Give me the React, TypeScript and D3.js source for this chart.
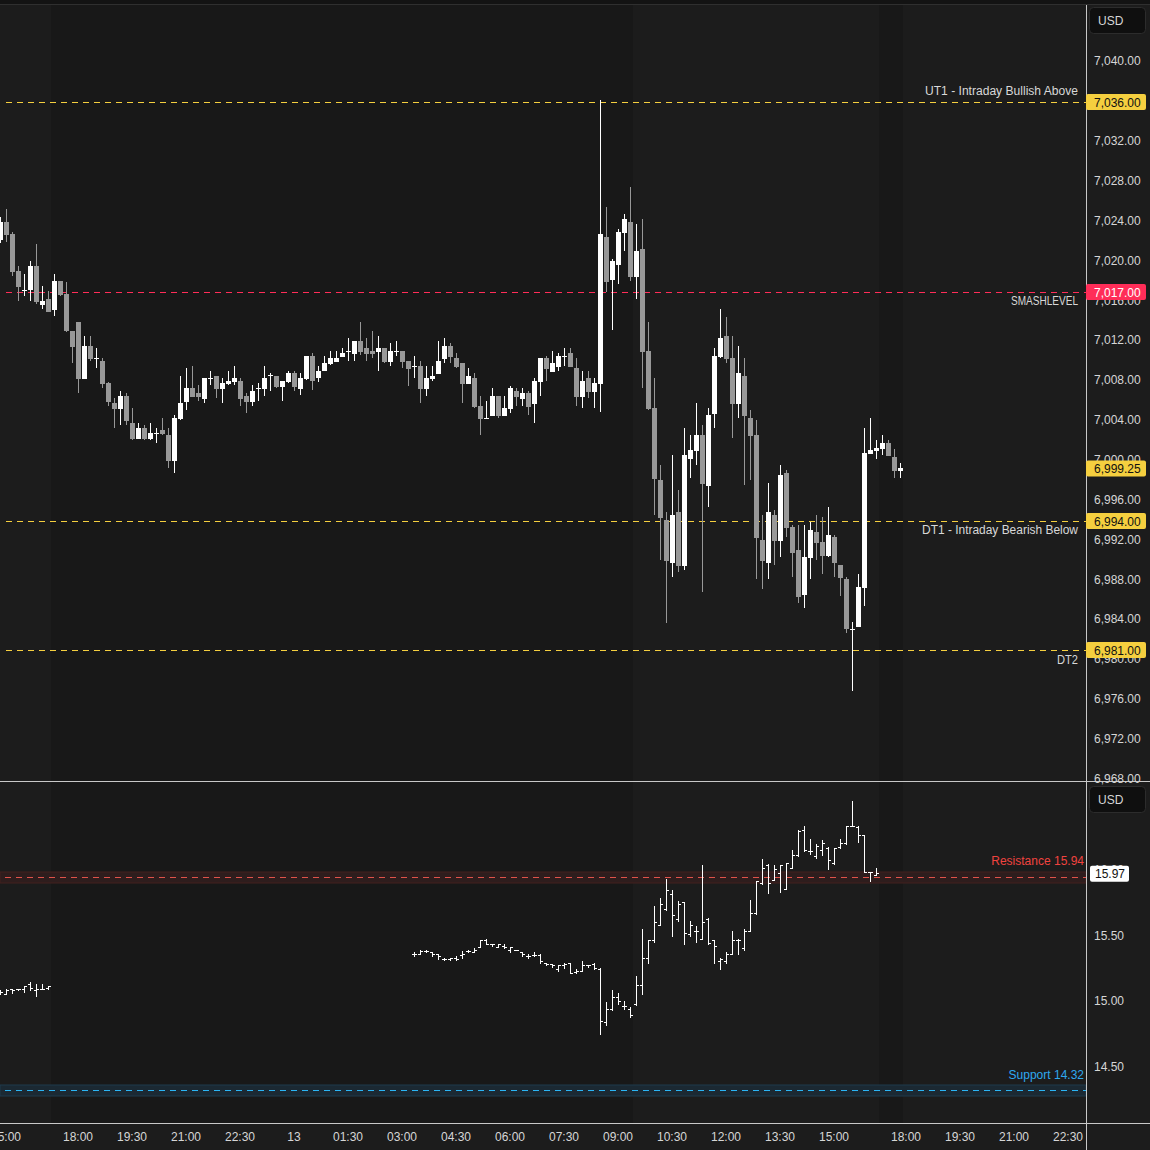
import React from 'react';
import * as d3 from 'd3';

// ---------- DATA ----------
// Main panel: 10-minute candles, bar index starts at -13 (index 0 = 18:00 on the 12th)
const mainStart = -13;
const mainOpen = [
  7022.2, 7024.0, 7022.8, 7019.1, 7017.2, 7017.2, 7019.6, 7015.7, 7016.3, 7015.2, 7018.1, 7016.8, 7013.0,
  7014.0, 7008.2, 7011.5, 7010.3, 7010.0, 7007.8, 7005.8, 7005.2, 7006.5, 7003.8, 7002.2, 7003.3, 7002.2, 7002.8, 7003.1, 7002.6, 7000.0, 7004.2, 7005.9, 7007.3,
  7006.8, 7006.2, 7008.3, 7008.5, 7007.2, 7007.7, 7007.9, 7008.0, 7006.5, 7005.9, 7007.3, 7007.2, 7008.6, 7008.5, 7007.4, 7007.9, 7008.8, 7007.2,
  7008.2, 7010.5, 7008.3, 7009.0, 7009.7, 7009.9, 7010.4, 7011.0, 7010.7, 7012.0, 7011.3, 7011.0, 7010.9, 7011.3, 7009.9, 7011.0, 7011.0, 7010.0,
  7009.5, 7009.5, 7007.2, 7008.2, 7008.7, 7010.2, 7011.5, 7010.3, 7009.8, 7007.7, 7008.3, 7005.5, 7004.3, 7004.5, 7006.5, 7004.5, 7005.2, 7007.0,
  7006.2, 7006.8, 7005.7, 7007.9, 7010.3, 7008.9, 7009.4, 7010.5, 7010.8, 7009.3, 7006.4, 7008.3, 7006.9, 7007.7, 7022.5, 7018.2, 7019.7, 7022.9,
  7024.0, 7018.5, 7021.3, 7011.0, 7005.3, 6998.1, 6994.1, 6989.8, 6994.9, 6989.5, 7000.2, 7001.0, 7002.6, 6997.5, 7004.7, 7010.4, 7012.5, 7010.3,
  7005.7, 7008.5, 7004.3, 7002.6, 6992.1, 6989.8, 6994.6, 6992.0, 6998.8, 6993.4, 6991.1, 6986.6, 6990.3, 6992.9, 6991.9, 6990.5, 6992.4, 6989.6,
  6988.2, 6983.1, 6983.3, 6987.3, 7000.7, 7001.0, 7001.2, 7001.8, 7000.4, 6999.0
];
const mainHigh = [
  7024.5, 7025.3, 7023.0, 7019.6, 7018.8, 7020.1, 7021.8, 7017.6, 7017.1, 7018.8, 7018.1, 7018.0, 7013.0,
  7014.0, 7012.5, 7012.5, 7011.3, 7010.3, 7007.9, 7006.3, 7007.0, 7006.8, 7005.3, 7003.8, 7003.6, 7003.8, 7003.3, 7004.3, 7003.3, 7004.6, 7008.5, 7009.3, 7009.5,
  7007.6, 7008.3, 7009.0, 7008.5, 7008.3, 7009.0, 7009.5, 7008.3, 7006.8, 7007.6, 7007.8, 7009.5, 7008.8, 7008.5, 7008.0, 7009.0, 7009.0, 7008.8,
  7010.5, 7010.8, 7009.5, 7010.5, 7011.0, 7011.0, 7011.3, 7012.3, 7012.0, 7014.0, 7012.3, 7013.0, 7012.5, 7011.3, 7011.8, 7012.0, 7011.0, 7010.0,
  7010.5, 7010.0, 7009.5, 7009.5, 7012.0, 7012.3, 7011.8, 7010.8, 7009.8, 7009.3, 7008.8, 7006.5, 7006.0, 7007.3, 7006.5, 7006.5, 7007.5, 7007.3,
  7007.3, 7007.0, 7008.3, 7010.3, 7010.5, 7011.0, 7010.8, 7011.3, 7011.3, 7010.3, 7009.0, 7009.0, 7008.3, 7036.2, 7025.5, 7020.3, 7023.3, 7024.8,
  7027.5, 7023.8, 7024.3, 7014.0, 7008.3, 6999.6, 6994.9, 7000.6, 6997.1, 7003.3, 7002.6, 7005.8, 7003.6, 7005.3, 7011.3, 7015.3, 7014.5, 7012.5,
  7011.5, 7010.3, 7005.1, 7004.1, 6994.6, 6997.8, 6995.1, 6999.6, 6999.1, 6993.6, 6993.6, 6993.6, 6993.9, 6994.6, 6994.4, 6995.4, 6992.6, 6989.6,
  6988.4, 6983.8, 6988.7, 7003.3, 7004.3, 7002.1, 7002.6, 7002.1, 7001.2, 6999.8
];
const mainLow = [
  7021.9, 7022.0, 7018.6, 7016.1, 7016.6, 7016.1, 7015.8, 7015.3, 7015.0, 7014.6, 7016.6, 7012.9, 7009.8,
  7006.8, 7008.2, 7010.0, 7009.3, 7007.3, 7005.5, 7003.3, 7003.6, 7003.6, 7002.1, 7002.2, 7002.1, 7002.1, 7001.8, 7002.6, 6999.3, 6998.8, 7004.1, 7005.1, 7006.4,
  7006.0, 7005.8, 7007.6, 7006.3, 7005.8, 7007.6, 7007.6, 7005.5, 7004.8, 7005.5, 7006.0, 7006.5, 7007.0, 7007.3, 7006.0, 7007.8, 7007.0, 7006.6,
  7008.1, 7007.1, 7007.9, 7009.0, 7009.6, 7009.9, 7010.4, 7010.0, 7010.0, 7010.6, 7010.0, 7010.3, 7009.0, 7009.8, 7009.5, 7010.5, 7009.3, 7007.5,
  7008.3, 7005.8, 7006.5, 7008.0, 7008.7, 7009.8, 7009.8, 7009.3, 7005.8, 7007.7, 7005.3, 7002.6, 7004.2, 7004.5, 7004.3, 7004.5, 7004.8, 7005.5,
  7005.5, 7004.6, 7003.8, 7006.5, 7008.0, 7008.9, 7009.0, 7009.5, 7009.4, 7005.5, 7005.3, 7006.3, 7005.3, 7004.9, 7017.0, 7013.1, 7017.8, 7021.1,
  7018.1, 7016.3, 7007.3, 7005.1, 6994.6, 6990.1, 6983.7, 6988.4, 6988.9, 6989.1, 6998.3, 6999.6, 6986.9, 6995.4, 7003.3, 7010.3, 7009.8, 7002.3,
  7004.3, 6997.6, 6998.1, 6988.2, 6987.2, 6988.2, 6989.6, 6990.4, 6992.4, 6988.4, 6985.7, 6985.2, 6988.2, 6990.1, 6988.7, 6990.4, 6988.4, 6986.4,
  6982.7, 6976.9, 6983.3, 6985.4, 7000.7, 7000.2, 7000.6, 7000.5, 6998.3, 6998.3
];
const mainClose = [
  7024.0, 7022.7, 7019.0, 7017.5, 7017.2, 7019.6, 7016.0, 7016.1, 7015.0, 7018.1, 7016.7, 7013.0, 7011.4,
  7008.2, 7011.5, 7010.2, 7010.3, 7007.7, 7005.9, 7005.2, 7006.5, 7004.0, 7002.2, 7003.3, 7002.2, 7002.8, 7002.8, 7002.7, 7000.0, 7004.3, 7005.8, 7007.3, 7006.4,
  7006.4, 7008.3, 7008.3, 7007.2, 7007.8, 7008.0, 7008.3, 7006.2, 7005.9, 7007.0, 7007.3, 7008.3, 7008.6, 7007.4, 7008.0, 7008.8, 7007.4, 7008.3,
  7010.5, 7008.0, 7009.0, 7009.8, 7010.3, 7010.3, 7010.8, 7011.0, 7012.0, 7010.9, 7010.7, 7010.7, 7011.3, 7009.9, 7011.0, 7011.0, 7009.9, 7009.2,
  7009.5, 7007.2, 7008.3, 7008.5, 7010.0, 7011.5, 7010.4, 7009.4, 7007.7, 7008.5, 7005.4, 7004.2, 7004.3, 7006.5, 7004.5, 7005.3, 7007.3, 7006.4,
  7006.8, 7005.4, 7008.0, 7010.3, 7009.2, 7009.8, 7010.5, 7010.5, 7009.4, 7006.4, 7008.0, 7006.9, 7007.8, 7022.8, 7018.0, 7020.1, 7023.0, 7024.3,
  7018.5, 7021.1, 7010.9, 7005.2, 6998.2, 6994.3, 6990.0, 6994.6, 6989.5, 7000.6, 7001.1, 7002.6, 6997.7, 7004.6, 7010.5, 7012.3, 7010.2, 7005.7,
  7008.8, 7004.5, 7002.5, 6992.3, 6990.0, 6994.9, 6992.0, 6998.6, 6993.3, 6990.8, 6986.3, 6990.4, 6993.1, 6991.8, 6990.5, 6992.6, 6989.8, 6988.3,
  6983.1, 6983.1, 6987.4, 7000.8, 7001.1, 7001.3, 7001.8, 7000.5, 6999.0, 6999.25
];

// Lower panel (OHLC bars), two trading segments
const vixAStart = -13;
const vixAOpen = [15.07, 15.05, 15.09, 15.09, 15.09, 15.13, 15.08, 15.09, 15.10];
const vixAHigh = [15.08, 15.09, 15.09, 15.09, 15.11, 15.14, 15.13, 15.13, 15.11];
const vixALow = [15.05, 15.05, 15.06, 15.08, 15.07, 15.08, 15.04, 15.09, 15.09];
const vixAClose = [15.07, 15.08, 15.08, 15.09, 15.11, 15.10, 15.09, 15.09, 15.11];

const vixBStart = 56;
const vixBOpen = [
  15.36, 15.36, 15.38, 15.37, 15.36, 15.32, 15.32, 15.33, 15.35, 15.38, 15.37, 15.41, 15.46, 15.43, 15.41, 15.42, 15.39, 15.39, 15.37, 15.34,
  15.35, 15.35, 15.29, 15.28, 15.24, 15.27, 15.29, 15.22, 15.23, 15.27, 15.28, 15.24, 14.84, 14.94, 15.03, 14.96, 14.94, 14.98, 15.12, 15.33,
  15.46, 15.58, 15.70, 15.81, 15.62, 15.75, 15.51, 15.53, 15.47, 15.62, 15.46, 15.30, 15.30, 15.36, 15.46, 15.40, 15.53, 15.67, 15.90, 16.03,
  15.92, 15.97, 15.85, 16.01, 16.11, 16.30, 16.14, 16.10, 16.15, 16.16, 16.05, 16.17, 16.20, 16.33, 16.32, 16.26, 15.98, 15.96
];
const vixBHigh = [
  15.37, 15.39, 15.39, 15.37, 15.36, 15.33, 15.33, 15.34, 15.38, 15.39, 15.40, 15.46, 15.47, 15.43, 15.43, 15.43, 15.41, 15.39, 15.37, 15.36,
  15.37, 15.36, 15.29, 15.28, 15.27, 15.29, 15.29, 15.24, 15.30, 15.27, 15.29, 15.25, 14.99, 15.08, 15.06, 15.00, 14.95, 15.19, 15.55, 15.46,
  15.72, 15.78, 15.93, 15.84, 15.76, 15.75, 15.61, 15.57, 16.03, 15.63, 15.46, 15.33, 15.37, 15.53, 15.47, 15.55, 15.77, 15.91, 16.08, 16.04,
  16.03, 16.03, 16.05, 16.15, 16.30, 16.33, 16.23, 16.19, 16.22, 16.17, 16.16, 16.23, 16.33, 16.52, 16.33, 16.26, 15.98, 16.01
];
const vixBLow = [
  15.34, 15.36, 15.37, 15.34, 15.32, 15.31, 15.31, 15.31, 15.33, 15.37, 15.37, 15.41, 15.43, 15.42, 15.41, 15.40, 15.37, 15.39, 15.34, 15.33,
  15.34, 15.29, 15.27, 15.26, 15.23, 15.25, 15.21, 15.21, 15.23, 15.26, 15.24, 14.75, 14.82, 14.93, 14.98, 14.94, 14.88, 14.97, 15.05, 15.29,
  15.45, 15.58, 15.69, 15.49, 15.61, 15.43, 15.49, 15.45, 15.47, 15.43, 15.29, 15.24, 15.29, 15.36, 15.36, 15.39, 15.53, 15.66, 15.89, 15.82,
  15.92, 15.83, 15.85, 16.01, 16.10, 16.14, 16.12, 16.09, 16.11, 16.00, 16.04, 16.16, 16.19, 16.33, 16.21, 15.98, 15.91, 15.96
];
const vixBClose = [
  15.36, 15.38, 15.38, 15.36, 15.34, 15.32, 15.33, 15.32, 15.36, 15.38, 15.39, 15.46, 15.43, 15.43, 15.43, 15.41, 15.41, 15.39, 15.36, 15.34,
  15.35, 15.30, 15.28, 15.27, 15.27, 15.28, 15.21, 15.23, 15.27, 15.27, 15.25, 14.85, 14.94, 15.03, 15.00, 14.96, 14.89, 15.12, 15.33, 15.46,
  15.60, 15.74, 15.84, 15.65, 15.74, 15.52, 15.58, 15.53, 15.60, 15.44, 15.42, 15.32, 15.36, 15.46, 15.46, 15.53, 15.67, 15.91, 16.01, 15.90,
  16.00, 16.03, 16.05, 16.11, 16.29, 16.15, 16.14, 16.18, 16.20, 16.07, 16.16, 16.20, 16.33, 16.33, 16.26, 15.98, 15.98, 15.97
];

// Time axis tick labels (bar index, label)
const timeTickIdx = [-12, 0, 9, 18, 27, 36, 45, 54, 63, 72, 81, 90, 99, 108, 117, 126, 138, 147, 156, 165];
const timeTickLabels = ['15:00', '18:00', '19:30', '21:00', '22:30', '13', '01:30', '03:00', '04:30', '06:00', '07:30', '09:00', '10:30', '12:00', '13:30', '15:00', '18:00', '19:30', '21:00', '22:30'];

// Price ticks
const mainTicks = [7040, 7036, 7032, 7028, 7024, 7020, 7016, 7012, 7008, 7004, 7000, 6996, 6992, 6988, 6984, 6980, 6976, 6972, 6968];
const lowerTicks = [16.0, 15.5, 15.0, 14.5];

// Key levels
const levelValues = [7036, 7017, 6994, 6981];
const levelNames = ['UT1 - Intraday Bullish Above', 'SMASHLEVEL', 'DT1 - Intraday Bearish Below', 'DT2'];

const lastPrice = 6999.25;
const resistance = 15.94;
const support = 14.32;
const lastVix = 15.97;

// Sessions with darker shading (extended hours), bar index ranges
const ethStart = [-4, 134];
const ethEnd = [92, 137];

// ---------- STYLE ----------
const FONT = "'Liberation Sans', Arial, sans-serif";
const AXIS_X = 1086;
const MAIN_BOTTOM = 781;
const LOWER_TOP = 782;
const LOWER_BOTTOM = 1123;
const YELLOW = '#f5cf3f';
const PINK = '#ff2d58';
const levelColors = [YELLOW, PINK, YELLOW, YELLOW];
const levelAbove = [true, false, false, false];
const levelTextWidths = [153, 67, 156, 21];

const fmt = d3.format(',.2f');
const snap = (v: number) => Math.round(v) + 0.5;

export default function App() {
  const x = d3.scaleLinear().domain([0, 1]).range([78, 84]);
  const yMain = d3.scaleLinear().domain([7036, 6981]).range([102.3, 650.3]);
  const yLow = d3.scaleLinear().domain([15.94, 14.32]).range([877.3, 1090.3]);

  const candles = mainOpen.map((o, k) => {
    const i = mainStart + k;
    const c = mainClose[k], h = mainHigh[k], l = mainLow[k];
    const cx = x(i);
    const up = c >= o;
    const col = up ? '#ffffff' : '#989898';
    const yt = Math.round(yMain(Math.max(o, c)));
    const yb = Math.round(yMain(Math.min(o, c)));
    const wh = Math.round(yMain(h));
    const wl = Math.round(yMain(l));
    return (
      <g key={'c' + k} fill={col}>
        <rect x={cx} y={wh} width={1} height={Math.max(1, wl - wh)} />
        <rect x={cx - 2} y={yt} width={5} height={Math.max(1, yb - yt)} />
      </g>
    );
  });

  const ohlc = (start: number, O: number[], Hh: number[], L: number[], C: number[], pre: string) =>
    O.map((o, k) => {
      const cx = x(start + k);
      const yh = Math.round(yLow(Hh[k]));
      const yl = Math.round(yLow(L[k]));
      const yo = Math.round(yLow(o));
      const yc = Math.round(yLow(C[k]));
      return (
        <g key={pre + k} fill="#ffffff">
          <rect x={cx} y={yh} width={1} height={Math.max(1, yl - yh + 1)} />
          <rect x={cx - 2} y={yo} width={2} height={1} />
          <rect x={cx + 1} y={yc} width={2} height={1} />
        </g>
      );
    });

  const yRes = snap(yLow(resistance));
  const ySup = snap(yLow(support));

  return (
    <svg width={1150} height={1150} style={{ position: 'absolute', left: 0, top: 0, display: 'block' }}
      xmlns="http://www.w3.org/2000/svg">
      <defs>
        <clipPath id="mainClip"><rect x={0} y={5} width={AXIS_X} height={MAIN_BOTTOM - 5} /></clipPath>
        <clipPath id="lowClip"><rect x={0} y={LOWER_TOP} width={AXIS_X} height={LOWER_BOTTOM - LOWER_TOP} /></clipPath>
        <clipPath id="timeClip"><rect x={0} y={LOWER_BOTTOM} width={AXIS_X} height={1150 - LOWER_BOTTOM} /></clipPath>
      </defs>
      <rect x={0} y={0} width={1150} height={1150} fill="#1c1c1c" />
      <rect x={0} y={0} width={1150} height={4} fill="#131313" />
      <line x1={0} x2={1150} y1={4.5} y2={4.5} stroke="#2f2f2f" />

      {/* session shading */}
      {ethStart.map((s, k) => (
        <rect key={'eth' + k} x={x(s - 0.5)} y={5} width={x(ethEnd[k] + 0.5) - x(s - 0.5)}
          height={LOWER_BOTTOM - 5} fill="#181818" />
      ))}

      {/* main panel */}
      <g clipPath="url(#mainClip)">
        {levelValues.map((v, k) => (
          <line key={'lv' + k} x1={6} x2={AXIS_X} y1={snap(yMain(v))} y2={snap(yMain(v))} stroke={levelColors[k]}
            strokeWidth={1} strokeDasharray="6 5" />
        ))}
        {candles}
        {levelValues.map((v, k) => (
          <text key={'lt' + k} x={1078} y={levelAbove[k] ? yMain(v) - 7 : yMain(v) + 13.5}
            textAnchor="end" fontFamily={FONT} fontSize={12} fill="#d8d8d8"
            textLength={levelTextWidths[k]} lengthAdjust="spacingAndGlyphs">{levelNames[k]}</text>
        ))}
      </g>

      {/* lower panel */}
      <g clipPath="url(#lowClip)">
        <rect x={0} y={yRes - 5.5} width={AXIS_X} height={11} fill="#2e1d1d" stroke="#42211f" strokeWidth={1} />
        <line x1={5} x2={AXIS_X} y1={yRes} y2={yRes} stroke="#e0524a" strokeDasharray="6 5" />
        <rect x={0} y={ySup - 5.5} width={AXIS_X} height={11} fill="#1b2933" stroke="#1f3b4d" strokeWidth={1} />
        <line x1={5} x2={AXIS_X} y1={ySup} y2={ySup} stroke="#2bb5f5" strokeDasharray="6 5" />
        {ohlc(vixAStart, vixAOpen, vixAHigh, vixALow, vixAClose, 'a')}
        {ohlc(vixBStart, vixBOpen, vixBHigh, vixBLow, vixBClose, 'b')}
        <text x={1084} y={yLow(resistance) - 12} textAnchor="end" fontFamily={FONT} fontSize={12} fill="#f0433f">
          {'Resistance ' + resistance.toFixed(2)}
        </text>
        <text x={1084} y={yLow(support) - 11} textAnchor="end" fontFamily={FONT} fontSize={12} fill="#2fa8ef">
          {'Support ' + support.toFixed(2)}
        </text>
      </g>

      {/* separators */}
      <line x1={0} x2={1150} y1={MAIN_BOTTOM + 0.5} y2={MAIN_BOTTOM + 0.5} stroke="#c8c8c8" />
      <line x1={0} x2={1150} y1={LOWER_BOTTOM + 0.5} y2={LOWER_BOTTOM + 0.5} stroke="#c8c8c8" />
      <line x1={AXIS_X + 0.5} x2={AXIS_X + 0.5} y1={5} y2={1150} stroke="#c8c8c8" />

      {/* main price axis */}
      <g fontFamily={FONT} fontSize={12} fill="#d6d6d6">
        {mainTicks.map((t) => (
          <text key={'mt' + t} x={1094} y={yMain(t) + 3}>{fmt(t)}</text>
        ))}
      </g>
      {levelValues.map((v, k) => (
        <g key={'lb' + k}>
          <rect x={AXIS_X} y={snap(yMain(v)) - 8.5} width={60} height={16} rx={2} fill={levelColors[k]} />
          <text x={1094} y={snap(yMain(v)) + 4} fontFamily={FONT} fontSize={12}
            fill={k === 1 ? '#ffffff' : '#111111'}>{fmt(v)}</text>
        </g>
      ))}
      <rect x={AXIS_X} y={yMain(lastPrice) - 8} width={60} height={16} rx={2} fill={YELLOW} />
      <text x={1094} y={yMain(lastPrice) + 4.3} fontFamily={FONT} fontSize={12} fill="#111111">{fmt(lastPrice)}</text>

      <rect x={1089.5} y={7.5} width={56} height={26} rx={4} fill="#0f0f0f" stroke="#2c2c2c" />
      <text x={1098} y={25} fontFamily={FONT} fontSize={12} fill="#d6d6d6">USD</text>

      {/* lower axis */}
      <g fontFamily={FONT} fontSize={12} fill="#d6d6d6">
        {lowerTicks.map((t) => (
          <text key={'lt' + t} x={1094} y={yLow(t) + 4.5}>{t.toFixed(2)}</text>
        ))}
      </g>
      <rect x={1090} y={yLow(lastVix) - 7.5} width={39} height={16} rx={2} fill="#ffffff" />
      <text x={1095} y={yLow(lastVix) + 4.8} fontFamily={FONT} fontSize={12} fill="#111111">{lastVix.toFixed(2)}</text>
      <rect x={1089.5} y={786.5} width={56} height={26} rx={4} fill="#0f0f0f" stroke="#2c2c2c" />
      <text x={1098} y={804} fontFamily={FONT} fontSize={12} fill="#d6d6d6">USD</text>

      {/* time axis */}
      <g clipPath="url(#timeClip)" fontFamily={FONT} fontSize={12} fill="#d6d6d6">
        {timeTickIdx.map((ti, k) => (
          <text key={'tt' + k} x={x(ti)} y={1141} textAnchor="middle">{timeTickLabels[k]}</text>
        ))}
      </g>
    </svg>
  );
}
